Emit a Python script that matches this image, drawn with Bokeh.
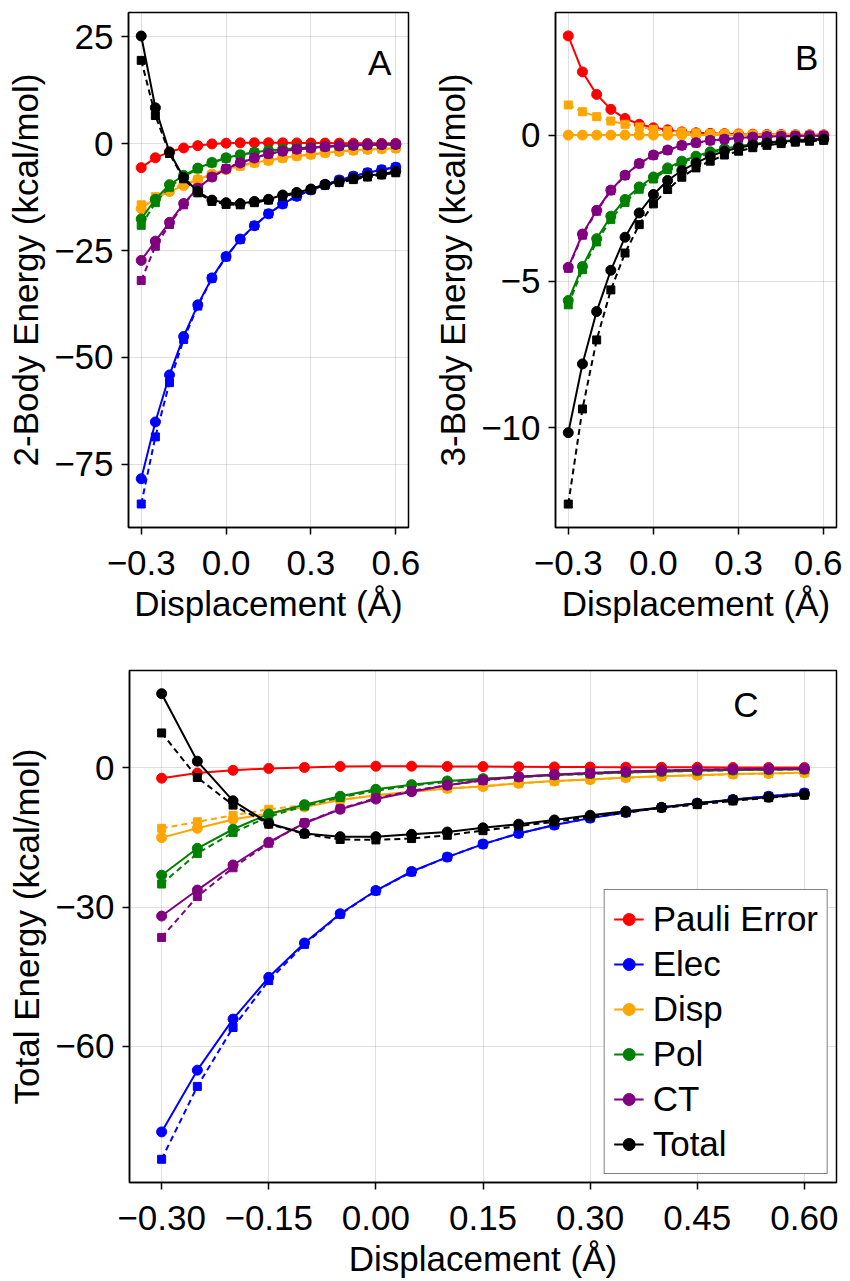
from bokeh.plotting import figure
from bokeh.models import FixedTicker, Range1d, Legend, LegendItem, Label, CustomJSTickFormatter
from bokeh.layouts import column, row
from bokeh.embed import file_html
from bokeh.resources import INLINE

# ---------------- data ----------------
xs = [-0.30, -0.25, -0.20, -0.15, -0.10, -0.05, 0.00, 0.05, 0.10, 0.15,
      0.20, 0.25, 0.30, 0.35, 0.40, 0.45, 0.50, 0.55, 0.60]

names = ["Pauli Error", "Elec", "Disp", "Pol", "CT", "Total"]

# Panel A : 2-body
A_pauli = [-5.6, -3.3, -1.9, -1.0, -0.45, -0.05, 0.12, 0.2, 0.22, 0.22, 0.2, 0.18, 0.16, 0.15, 0.13, 0.12, 0.1, 0.09, 0.08]
A_elec_model = [-78.4, -65.1, -54.1, -45.1, -37.7, -31.4, -26.4, -22.3, -19.2, -16.4, -14.1, -12.3, -10.8, -9.6, -8.5, -7.6, -6.8, -6.1, -5.5]
A_elec_ref = [-84.3, -68.6, -55.9, -45.8, -38.0, -31.5, -26.5, -22.4, -19.2, -16.4, -14.1, -12.3, -10.8, -9.6, -8.5, -7.6, -6.8, -6.1, -5.5]
A_disp_model = [-15.2, -12.8, -11.2, -9.8, -8.4, -7.1, -6.0, -5.1, -4.4, -3.9, -3.3, -2.85, -2.5, -2.1, -1.8, -1.55, -1.35, -1.2, -1.05]
A_disp_ref = [-14.3, -12.4, -10.8, -9.4, -8.4, -7.2, -6.1, -5.25, -4.5, -3.98, -3.36, -2.9, -2.54, -2.13, -1.82, -1.57, -1.36, -1.21, -1.06]
A_pol_model = [-17.6, -13.0, -9.6, -7.4, -5.7, -4.4, -3.3, -2.6, -2.0, -1.6, -1.3, -1.05, -0.85, -0.65, -0.5, -0.38, -0.28, -0.22, -0.17]
A_pol_ref = [-19.1, -13.8, -10.2, -7.7, -5.9, -4.5, -3.4, -2.65, -2.05, -1.65, -1.35, -1.1, -0.88, -0.68, -0.52, -0.4, -0.3, -0.23, -0.18]
A_ct_model = [-27.3, -22.8, -18.4, -14.0, -10.4, -7.8, -5.9, -4.5, -3.35, -2.35, -1.75, -1.3, -1.0, -0.7, -0.5, -0.34, -0.25, -0.18, -0.13]
A_ct_ref = [-32.0, -24.0, -18.9, -14.3, -10.4, -7.8, -5.8, -4.4, -3.3, -2.4, -1.75, -1.3, -1.0, -0.72, -0.52, -0.36, -0.26, -0.18, -0.13]
A_total_model = [25.2, 8.4, -2.0, -7.9, -11.2, -13.2, -13.8, -14.0, -13.5, -13.0, -12.0, -11.4, -10.6, -9.5, -8.9, -8.1, -7.5, -7.1, -6.5]
A_total_ref = [19.5, 6.6, -2.3, -8.2, -11.5, -13.5, -14.2, -14.3, -13.8, -13.2, -12.3, -11.6, -10.8, -9.7, -9.1, -8.4, -7.8, -7.3, -6.8]

# Panel B : 3-body
B_pauli = [3.39, 2.16, 1.39, 0.88, 0.57, 0.37, 0.25, 0.18, 0.11, 0.08, 0.06, 0.05, 0.04, 0.03, 0.02, 0.02, 0.01, 0.01, 0.01]
B_disp_model = [0.0, 0.0, 0.0, 0.0, 0.0, 0.0, 0.0, 0.0, 0.0, 0.0, 0.0, 0.0, 0.0, 0.0, 0.0, 0.0, 0.0, 0.0, 0.0]
B_disp_ref = [1.03, 0.80, 0.63, 0.48, 0.37, 0.28, 0.20, 0.15, 0.11, 0.08, 0.06, 0.05, 0.04, 0.03, 0.02, 0.02, 0.01, 0.01, 0.01]
B_pol_model = [-5.65, -4.49, -3.54, -2.77, -2.20, -1.77, -1.43, -1.12, -0.89, -0.72, -0.57, -0.46, -0.38, -0.30, -0.24, -0.21, -0.17, -0.15, -0.13]
B_pol_ref = [-5.80, -4.60, -3.65, -2.88, -2.30, -1.85, -1.50, -1.18, -0.94, -0.76, -0.61, -0.49, -0.40, -0.32, -0.26, -0.22, -0.18, -0.16, -0.14]
B_ct_model = [-4.52, -3.38, -2.57, -1.88, -1.37, -0.97, -0.68, -0.51, -0.35, -0.26, -0.18, -0.14, -0.09, -0.07, -0.05, -0.04, -0.03, -0.02, -0.02]
B_ct_ref = [-4.55, -3.42, -2.60, -1.90, -1.38, -0.98, -0.69, -0.52, -0.36, -0.27, -0.19, -0.14, -0.10, -0.07, -0.05, -0.04, -0.03, -0.02, -0.02]
B_total_model = [-10.17, -7.82, -6.03, -4.62, -3.49, -2.66, -2.03, -1.55, -1.21, -0.95, -0.72, -0.55, -0.43, -0.34, -0.27, -0.23, -0.19, -0.16, -0.14]
B_total_ref = [-12.61, -9.36, -7.0, -5.29, -4.03, -3.06, -2.35, -1.86, -1.44, -1.12, -0.89, -0.68, -0.55, -0.43, -0.35, -0.29, -0.24, -0.21, -0.18]

# Panel C : total
C_pauli = [-2.2, -1.1, -0.5, -0.1, 0.12, 0.32, 0.37, 0.38, 0.33, 0.3, 0.26, 0.23, 0.2, 0.18, 0.15, 0.14, 0.11, 0.1, 0.09]
C_elec_model = [-78.4, -65.1, -54.1, -45.1, -37.7, -31.4, -26.4, -22.3, -19.2, -16.4, -14.1, -12.3, -10.8, -9.6, -8.5, -7.6, -6.8, -6.1, -5.4]
C_elec_ref = [-84.3, -68.6, -55.9, -45.8, -38.0, -31.5, -26.5, -22.4, -19.2, -16.4, -14.1, -12.3, -10.8, -9.6, -8.5, -7.6, -6.8, -6.1, -5.4]
C_disp_model = [-15.0, -13.0, -11.1, -9.8, -8.4, -6.9, -5.85, -5.1, -4.4, -4.0, -3.3, -2.8, -2.5, -2.05, -1.8, -1.55, -1.3, -1.2, -1.0]
C_disp_ref = [-13.0, -11.6, -10.2, -8.9, -8.0, -6.9, -5.9, -5.1, -4.4, -3.9, -3.3, -2.85, -2.5, -2.1, -1.8, -1.55, -1.35, -1.2, -1.05]
C_pol_model = [-23.1, -17.3, -13.2, -9.9, -7.9, -6.1, -4.6, -3.6, -2.8, -2.3, -1.9, -1.5, -1.2, -0.95, -0.75, -0.58, -0.45, -0.37, -0.3]
C_pol_ref = [-25.0, -18.4, -13.9, -10.5, -8.2, -6.35, -4.9, -3.8, -3.0, -2.4, -1.96, -1.6, -1.28, -1.0, -0.78, -0.62, -0.48, -0.39, -0.32]
C_ct_model = [-31.9, -26.3, -20.9, -16.0, -11.9, -8.9, -6.7, -5.1, -3.7, -2.6, -1.9, -1.4, -1.1, -0.75, -0.55, -0.38, -0.28, -0.2, -0.15]
C_ct_ref = [-36.5, -27.7, -21.5, -16.2, -11.8, -8.8, -6.5, -4.9, -3.7, -2.7, -1.95, -1.45, -1.1, -0.8, -0.57, -0.4, -0.29, -0.2, -0.15]
C_total_model = [16.0, 1.46, -7.07, -11.9, -14.1, -14.8, -14.8, -14.3, -13.8, -12.9, -12.1, -11.2, -10.2, -9.3, -8.5, -7.6, -6.9, -6.3, -5.7]
C_total_ref = [7.55, -2.05, -8.0, -12.1, -14.2, -15.4, -15.5, -15.2, -14.5, -13.5, -12.5, -11.6, -10.5, -9.6, -8.6, -7.9, -7.1, -6.4, -5.85]

# ticks
AB_xticks = [-0.3, 0.0, 0.3, 0.6]
AB_xlabels = ["\u22120.3", "0.0", "0.3", "0.6"]
A_yticks = [-75, -50, -25, 0, 25]
A_ylabels = ["\u221275", "\u221250", "\u221225", "0", "25"]
B_yticks = [-10, -5, 0]
B_ylabels = ["\u221210", "\u22125", "0"]
C_xticks = [-0.30, -0.15, 0.00, 0.15, 0.30, 0.45, 0.60]
C_xlabels = ["\u22120.30", "\u22120.15", "0.00", "0.15", "0.30", "0.45", "0.60"]
C_yticks = [-60, -30, 0]
C_ylabels = ["\u221260", "\u221230", "0"]

colors = {"Pauli Error": "#ff0000", "Elec": "#0000ff", "Disp": "#ffa500",
          "Pol": "#008000", "CT": "#800080", "Total": "#000000"}

FONT = "Liberation Sans"
TICK_FS = "35px"
LABEL_FS = "35px"


def fmt(tv, tl):
    return CustomJSTickFormatter(args=dict(tvals=tv, tlabels=tl), code="""
        for (let i = 0; i < tvals.length; i++) {
            if (Math.abs(tvals[i] - tick) < 1e-9) return tlabels[i];
        }
        return '';
    """)


def make_fig(width, height, mbl, mbr, mbt, mbb, xr, yr, xt, xl, yt, yl, ylabel):
    p = figure(width=width, height=height, x_range=Range1d(*xr), y_range=Range1d(*yr),
               output_backend="svg", toolbar_location=None,
               min_border_left=mbl, min_border_right=mbr,
               min_border_top=mbt, min_border_bottom=mbb)
    p.outline_line_color = "black"
    p.outline_line_width = 1.5
    p.outline_line_alpha = 1.0
    p.background_fill_color = "white"
    p.border_fill_color = "white"
    p.xaxis.ticker = FixedTicker(ticks=xt)
    p.yaxis.ticker = FixedTicker(ticks=yt)
    p.xaxis.formatter = fmt(xt, xl)
    p.yaxis.formatter = fmt(yt, yl)
    p.xaxis.axis_label = "Displacement (\u00c5)"
    p.yaxis.axis_label = ylabel
    for ax in p.axis:
        ax.axis_line_color = "black"
        ax.axis_line_width = 1.5
        ax.major_tick_out = 7
        ax.major_tick_in = 0
        ax.major_tick_line_width = 1.5
        ax.minor_tick_out = 0
        ax.minor_tick_in = 0
        ax.major_label_text_font = FONT
        ax.major_label_text_font_size = TICK_FS
        ax.major_label_text_color = "black"
        ax.axis_label_text_font = FONT
        ax.axis_label_text_font_size = LABEL_FS
        ax.axis_label_text_font_style = "normal"
        ax.axis_label_text_color = "black"
        ax.axis_label_standoff = 6
    p.xaxis.major_label_standoff = 16
    p.yaxis.major_label_standoff = 8
    p.grid.grid_line_color = "black"
    p.grid.grid_line_alpha = 0.12
    p.grid.grid_line_width = 1
    return p


def draw(p, series):
    items = []
    for name, model, ref in series:
        c = colors[name]
        if ref is not None:
            p.line(xs, ref, line_color=c, line_width=2, line_dash="6 4")
            p.scatter(xs, ref, marker="square", size=8, fill_color=c, line_color=c)
        lr = p.line(xs, model, line_color=c, line_width=2)
        cr = p.scatter(xs, model, marker="circle", size=10, fill_color=c, line_color=c)
        items.append(LegendItem(label=name, renderers=[lr, cr]))
    return items


XR = (-0.345, 0.645)

pA = make_fig(430, 640, 128, 22, 12, 113, XR, (-89.8, 30.7),
              AB_xticks, AB_xlabels, A_yticks, A_ylabels, "2-Body Energy (kcal/mol)")
draw(pA, [("Pauli Error", A_pauli, None),
          ("Elec", A_elec_model, A_elec_ref),
          ("Disp", A_disp_model, A_disp_ref),
          ("Pol", A_pol_model, A_pol_ref),
          ("CT", A_ct_model, A_ct_ref),
          ("Total", A_total_model, A_total_ref)])
pA.add_layout(Label(x=0.543, y=19.0, text="A", text_align="center", text_baseline="middle",
                    text_font=FONT, text_font_size="35px", text_color="black"))

pB = make_fig(412, 640, 108, 6, 12, 113, XR, (-13.41, 4.19),
              AB_xticks, AB_xlabels, B_yticks, B_ylabels, "3-Body Energy (kcal/mol)")
draw(pB, [("Pauli Error", B_pauli, None),
          ("Disp", B_disp_model, B_disp_ref),
          ("Pol", B_pol_model, B_pol_ref),
          ("CT", B_ct_model, B_ct_ref),
          ("Total", B_total_model, B_total_ref)])
pB.add_layout(Label(x=0.54, y=2.64, text="B", text_align="center", text_baseline="middle",
                    text_font=FONT, text_font_size="35px", text_color="black"))

pC = make_fig(842, 640, 129, 6, 30, 97, XR, (-89.3, 21.0),
              C_xticks, C_xlabels, C_yticks, C_ylabels, "Total Energy (kcal/mol)")
items = draw(pC, [("Pauli Error", C_pauli, None),
                  ("Elec", C_elec_model, C_elec_ref),
                  ("Disp", C_disp_model, C_disp_ref),
                  ("Pol", C_pol_model, C_pol_ref),
                  ("CT", C_ct_model, C_ct_ref),
                  ("Total", C_total_model, C_total_ref)])
pC.add_layout(Label(x=0.518, y=13.7, text="C", text_align="center", text_baseline="middle",
                    text_font=FONT, text_font_size="35px", text_color="black"))

legend = Legend(items=items, location="bottom_right", margin=8, padding=9,
                spacing=5, glyph_width=30, glyph_height=40, label_height=40,
                label_standoff=9, label_text_font=FONT, label_text_font_size="35px",
                label_text_color="black", border_line_color="black", border_line_width=1.5,
                background_fill_color="white", background_fill_alpha=1.0)
pC.add_layout(legend)

layout = column(row(pA, pB), pC)
open("out.html", "w").write(file_html(layout, INLINE))
